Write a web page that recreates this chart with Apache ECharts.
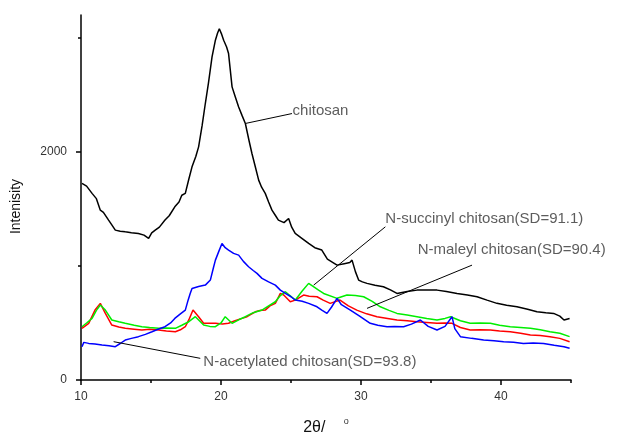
<!DOCTYPE html>
<html>
<head>
<meta charset="utf-8">
<script src="https://cdn.jsdelivr.net/npm/echarts@6/dist/echarts.min.js"></script>
<style>
  html, body { margin: 0; padding: 0; background: #fff; }
  #chart { width: 637px; height: 435px; }
</style>
</head>
<body>
<div id="chart"></div>
<script>
// XRD patterns, [2theta, intensity]
const chitosan = [[10.07,1723],[10.4,1700],[10.79,1636],[11.1,1590],[11.38,1489],[11.6,1470],[11.97,1402],[12.2,1360],[12.45,1314],[12.8,1305],[13.16,1299],[13.6,1292],[14.1,1285],[14.5,1270],[14.83,1241],[15.05,1290],[15.3,1314],[15.6,1340],[16.0,1402],[16.3,1440],[16.7,1518],[17.0,1560],[17.2,1620],[17.45,1636],[17.7,1760],[17.93,1869],[18.2,1960],[18.4,2044],[18.65,2230],[18.88,2424],[19.1,2600],[19.36,2832],[19.6,2979],[19.75,3040],[19.88,3080],[20.05,3030],[20.19,2979],[20.4,2920],[20.54,2862],[20.79,2570],[21.0,2490],[21.26,2394],[21.5,2320],[21.74,2249],[22.0,2100],[22.21,1986],[22.45,1870],[22.69,1752],[22.9,1690],[23.16,1636],[23.4,1560],[23.64,1489],[23.9,1440],[24.1,1402],[24.5,1380],[24.83,1416],[25.05,1340],[25.3,1285],[25.8,1240],[26.26,1197],[26.7,1160],[27.2,1139],[27.6,1060],[28.0,1030],[28.29,1007],[28.8,1020],[29.2,1030],[29.36,1051],[29.6,950],[29.83,876],[30.1,860],[30.43,847],[31.0,830],[31.6,818],[32.1,790],[32.57,759],[33.3,775],[34.0,788],[34.7,790],[35.43,788],[36.1,775],[36.86,759],[37.6,745],[38.29,730],[39.0,700],[39.71,672],[40.4,655],[41.14,642],[41.9,620],[42.57,598],[43.2,590],[43.76,584],[44.2,560],[44.5,526],[44.9,540]];

const acetylated = [[10.07,292],[10.2,330],[10.55,321],[11.0,315],[11.5,307],[12.0,300],[12.45,292],[12.8,320],[13.16,350],[13.6,365],[14.1,380],[14.6,400],[15.07,423],[15.5,445],[16.0,467],[16.4,500],[16.7,540],[17.1,580],[17.45,613],[17.65,700],[17.8,759],[17.93,803],[18.4,820],[18.88,832],[19.24,876],[19.45,980],[19.6,1051],[19.85,1130],[20.07,1197],[20.3,1160],[20.54,1139],[20.66,1139],[20.9,1110],[21.26,1095],[21.6,1040],[21.97,993],[22.3,960],[22.57,935],[22.93,891],[23.4,860],[23.88,832],[24.24,788],[24.6,759],[25.0,730],[25.31,701],[25.8,690],[26.26,672],[26.86,642],[27.2,613],[27.57,584],[27.9,640],[28.29,716],[28.6,660],[29.24,613],[29.9,560],[30.66,497],[31.2,480],[31.86,467],[32.4,470],[33.04,467],[33.6,490],[34.24,526],[34.8,470],[35.43,438],[36.0,470],[36.5,555],[36.7,450],[37.1,380],[37.9,365],[38.76,350],[39.5,345],[40.19,336],[40.9,330],[41.6,321],[42.3,325],[43.04,321],[43.8,305],[44.5,292],[44.9,278]];

const maleyl = [[10.07,453],[10.55,497],[11.0,613],[11.38,672],[11.74,584],[12.2,482],[12.7,465],[13.16,453],[13.8,445],[14.35,438],[14.9,445],[15.54,438],[16.1,430],[16.74,423],[17.1,440],[17.45,467],[17.75,540],[18.0,613],[18.4,555],[18.76,497],[19.2,497],[19.6,497],[20.1,490],[20.54,497],[21.0,520],[21.5,540],[21.86,555],[22.45,598],[22.8,610],[23.16,613],[23.5,650],[23.88,672],[24.24,759],[24.48,745],[24.95,686],[25.3,700],[25.9,745],[26.3,735],[26.86,730],[27.3,700],[27.8,672],[28.5,701],[29.1,650],[29.7,613],[30.4,580],[31.14,555],[31.9,540],[32.57,526],[33.3,520],[34.0,511],[34.7,505],[35.43,497],[36.0,500],[36.5,497],[37.1,460],[37.8,438],[38.5,440],[39.24,438],[39.9,430],[40.66,423],[41.4,410],[42.1,394],[42.8,390],[43.5,380],[44.2,365],[44.9,336]];

const succinyl = [[10.07,467],[10.4,500],[10.79,540],[11.1,610],[11.38,657],[11.74,613],[12.2,526],[12.7,510],[13.16,497],[13.8,480],[14.35,467],[14.9,460],[15.54,453],[16.1,455],[16.74,453],[17.2,480],[17.7,511],[18.17,555],[18.76,482],[19.2,470],[19.6,467],[20.0,500],[20.3,555],[20.79,497],[21.3,530],[21.74,555],[22.3,590],[22.93,613],[23.4,650],[23.88,686],[24.24,740],[24.6,774],[25.31,701],[25.8,780],[26.26,847],[26.38,847],[26.97,788],[27.33,759],[28.29,716],[29.0,745],[29.6,740],[30.19,730],[30.8,690],[31.38,642],[32.0,610],[32.57,584],[33.3,570],[34.0,555],[34.7,540],[35.43,526],[36.0,540],[36.4,555],[37.1,520],[37.8,497],[38.5,500],[39.24,497],[39.9,480],[40.66,467],[41.4,460],[42.1,453],[42.8,440],[43.5,423],[44.2,410],[44.9,380]];

// tick values
const xMajorTicks = [10, 20, 30, 40];
const xMinorTicks = [15, 25, 35, 45];
const yMajorTicks = [0, 2000];
const yMinorTicks = [1000, 3000];

// annotation texts, leader line [from, to], text anchor
const noteTexts = ['chitosan', 'N-succinyl chitosan(SD=91.1)', 'N-maleyl chitosan(SD=90.4)', 'N-acetylated chitosan(SD=93.8)'];
const noteLines = [
  [[21.74, 2249], [25.07, 2336]],
  [[26.62, 832], [31.74, 1343]],
  [[30.43, 628], [37.93, 1007]],
  [[12.33, 336], [18.52, 190]]
];
const noteAnchors = [[25.11, 2359], [31.74, 1417], [34.05, 1139], [18.74, 160]];

const chart = echarts.init(document.getElementById('chart'));

const font = 'Liberation Sans, Arial, sans-serif';

function curve(name, data, color) {
  return {
    name: name,
    type: 'line',
    data: data,
    symbol: 'none',
    animation: false,
    lineStyle: { color: color, width: 1.5 },
    z: 3
  };
}

const series = [
  curve('chitosan', chitosan, '#000000'),
  curve('N-maleyl chitosan', maleyl, '#ff0000'),
  curve('N-succinyl chitosan', succinyl, '#00ee00'),
  curve('N-acetylated chitosan', acetylated, '#0000ff')
];

noteLines.forEach(function (pts) {
  series.push({
    type: 'line',
    data: pts,
    symbol: 'none',
    animation: false,
    silent: true,
    lineStyle: { color: '#000', width: 1 },
    z: 4
  });
});

series.push({
  type: 'scatter',
  symbolSize: 0,
  animation: false,
  silent: true,
  data: noteAnchors.map(function (p, i) { return { value: p, name: noteTexts[i] }; }),
  label: {
    show: true,
    position: 'right',
    distance: 0,
    formatter: '{b}',
    color: '#333',
    fontFamily: font,
    fontSize: 15
  },
  z: 5
});

const plainNumber = function (v) { return String(v); };

const option = {
  backgroundColor: '#fff',
  animation: false,
  grid: { left: 81, right: 66, top: 15, bottom: 55, outerBoundsMode: 'none' },
  xAxis: [
    {
      type: 'value',
      min: 10,
      max: 45,
      name: '{a|2θ/ }{b|o}',
      nameLocation: 'middle',
      nameGap: 37,
      nameTextStyle: {
        rich: {
          a: { fontFamily: font, fontSize: 16, color: '#111' },
          b: { fontFamily: font, fontSize: 9, color: '#333', padding: [0, 0, 12, 14] }
        }
      },
      splitLine: { show: false },
      axisLine: { onZero: false, lineStyle: { color: '#000', width: 1.5 } },
      axisTick: { customValues: xMajorTicks, length: 5, lineStyle: { color: '#000', width: 1.5 } },
      axisLabel: { customValues: xMajorTicks, formatter: plainNumber, margin: 11, color: '#333', fontFamily: font, fontSize: 12 }
    },
    {
      type: 'value',
      min: 10,
      max: 45,
      position: 'bottom',
      splitLine: { show: false },
      axisLine: { show: false },
      axisTick: { customValues: xMinorTicks, length: 3, lineStyle: { color: '#000', width: 1.5 } },
      axisLabel: { show: false }
    }
  ],
  yAxis: [
    {
      type: 'value',
      min: 0,
      max: 3200,
      name: 'Intenisity',
      nameLocation: 'middle',
      nameGap: 58,
      nameTextStyle: { fontFamily: font, fontSize: 14, color: '#111', padding: [0, 0, 0, -18] },
      splitLine: { show: false },
      axisLine: { show: true, onZero: false, lineStyle: { color: '#000', width: 1.5 } },
      axisTick: { show: true, customValues: yMajorTicks, length: 5, lineStyle: { color: '#000', width: 1.5 } },
      axisLabel: { customValues: yMajorTicks, formatter: plainNumber, margin: 14, color: '#333', fontFamily: font, fontSize: 12 }
    },
    {
      type: 'value',
      min: 0,
      max: 3200,
      position: 'left',
      splitLine: { show: false },
      axisLine: { show: false },
      axisTick: { show: true, customValues: yMinorTicks, length: 3, lineStyle: { color: '#000', width: 1.5 } },
      axisLabel: { show: false }
    }
  ],
  series: series
};

chart.setOption(option);
</script>
</body>
</html>
